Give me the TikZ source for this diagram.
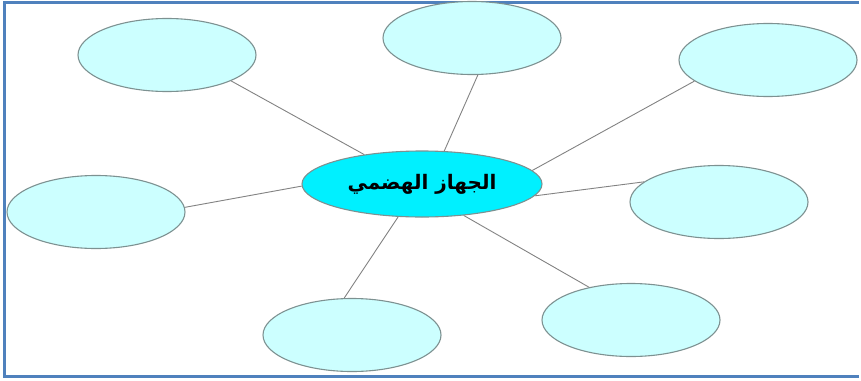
\documentclass[tikz,border=0pt]{standalone}
\usepackage{fontspec}
\usetikzlibrary{shapes.geometric}
\TeXXeTstate=1
\newfontfamily\arabicfont[Script=Arabic]{DejaVu Sans}
\definecolor{frameblue}{RGB}{79,129,189}
\definecolor{bubblefill}{RGB}{204,255,255}
\definecolor{hubfill}{RGB}{0,240,255}
\definecolor{rimgray}{RGB}{125,145,145}
\definecolor{linkgray}{RGB}{130,130,130}

\begin{document}
\begin{tikzpicture}[x=1pt,y=-1pt,
  bubble/.style={ellipse,draw=rimgray,line width=1.1pt,fill=bubblefill,minimum width=178pt,minimum height=73pt,inner sep=0pt},
  hub/.style={ellipse,draw=rimgray,line width=1.1pt,fill=hubfill,minimum width=240pt,minimum height=66pt,inner sep=0pt},
  link/.style={linkgray,line width=0.9pt}]
\useasboundingbox (0,0) rectangle (861,380);
% Frame (open on the right)
\draw[frameblue,line width=3pt] (859,2) -- (4,2) -- (4,376) -- (859,376);
% Centre
\node[hub] (hub) at (422,184) {\arabicfont\bfseries\fontsize{20}{24}\selectfont\beginR الجهاز الهضمي\endR};
% Outer ellipses
\node[bubble] (tl) at (167,55) {};
\node[bubble] (tc) at (472,38) {};
\node[bubble] (tr) at (768,60) {};
\node[bubble] (ml) at (96,212) {};
\node[bubble] (mr) at (719,202) {};
\node[bubble] (bc) at (352,335) {};
\node[bubble] (br) at (631,320) {};
% Spokes
\foreach \a/\n/\b in {153/tl/-22, 56/tc/-81, 7/tr/-164, 181/ml/3,
                      -6/mr/165, -126/bc/102, -37/br/142}
  \draw[link] (hub.\a) -- (\n.\b);
\end{tikzpicture}
\end{document}
